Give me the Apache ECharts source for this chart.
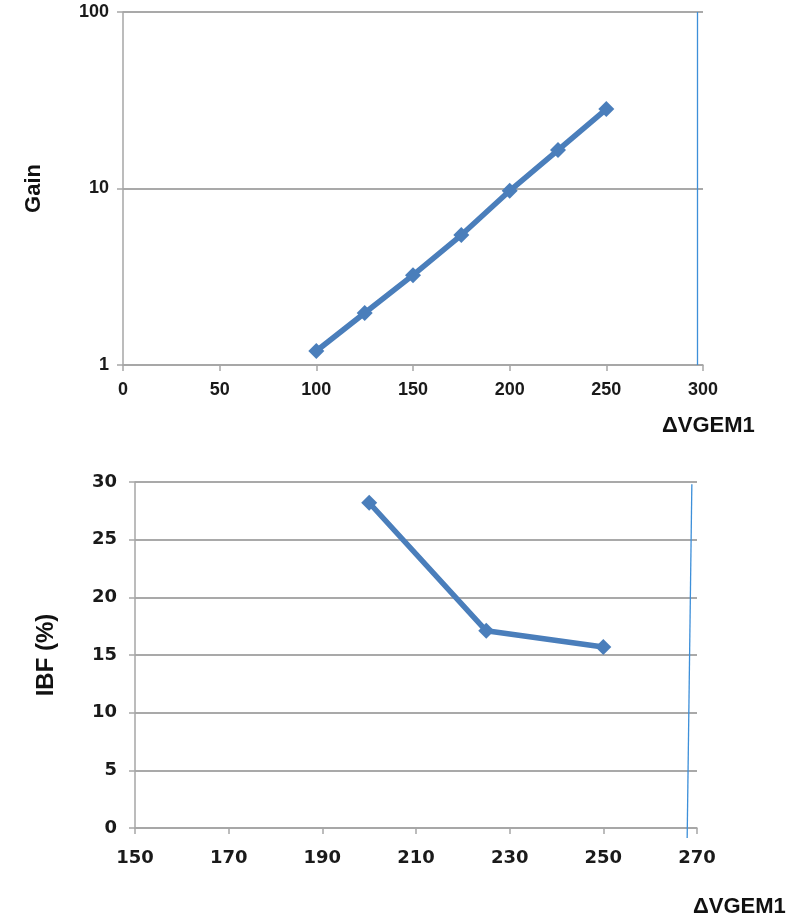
<!DOCTYPE html>
<html>
<head>
  <meta charset="UTF-8">
  <title>Gain and IBF vs ΔVGEM1</title>
  <style>
    body { margin: 0; background: #fff; }
    #chart { width: 803px; height: 921px; }
  </style>
  <script src="https://cdn.jsdelivr.net/npm/echarts@6/dist/echarts.min.js"></script>
</head>
<body>
<div id="chart"></div>
<script>
  // top panel: gain (log scale)
  const gainVoltage = [100, 125, 150, 175, 200, 225, 250];
  const gainValues = [1.2, 1.97, 3.23, 5.45, 9.7, 16.5, 28.2];
  // bottom panel: ion back flow
  const ibfVoltage = [200, 225, 250];
  const ibfValues = [28.2, 17.1, 15.7];
  // thin blue reference lines at the right edge of each panel
  const gainEdgeX = 297;
  const ibfEdgeX = [268.9, 267.9];
  const ibfEdgeY = [29.8, -0.87];

  const blue = '#4a7ebb';
  const thin = '#3d8fd9';
  const axisGray = '#a6a6a6';
  const nameStyle = { fontFamily: 'Liberation Sans', fontWeight: 'bold', fontSize: 22, color: '#111' };

  const chart = echarts.init(document.getElementById('chart'));

  const xCommon = {
    type: 'value',
    axisLine: { lineStyle: { color: axisGray, width: 1.5 } },
    axisTick: { show: true, length: 6, lineStyle: { color: axisGray, width: 1.5 } },
    splitLine: { show: false }
  };
  const yCommon = {
    axisLine: { show: true, lineStyle: { color: axisGray, width: 1.5 } },
    axisTick: { show: true, length: 6, lineStyle: { color: axisGray, width: 1.5 } },
    splitLine: { show: true, lineStyle: { color: '#8c8c8c', width: 1.5 } }
  };

  chart.setOption({
    animation: false,
    grid: [
      { left: 123, top: 12, width: 580, height: 353 },
      { left: 135, top: 482, width: 562, height: 346 }
    ],
    xAxis: [
      Object.assign({}, xCommon, {
        gridIndex: 0, min: 0, max: 300, interval: 50,
        name: 'ΔVGEM1', nameLocation: 'end', nameGap: -41,
        nameTextStyle: Object.assign({}, nameStyle, { verticalAlign: 'top', padding: [50, 0, 0, 0] }),
        axisLabel: { margin: 16, fontFamily: 'Liberation Sans', fontWeight: 'bold', fontSize: 18, color: '#1a1a1a' }
      }),
      Object.assign({}, xCommon, {
        gridIndex: 1, min: 150, max: 270, interval: 20,
        name: 'ΔVGEM1', nameLocation: 'end', nameGap: -4,
        nameTextStyle: Object.assign({}, nameStyle, { verticalAlign: 'top', padding: [68, 0, 0, 0] }),
        axisLabel: { margin: 21, fontFamily: 'DejaVu Sans', fontWeight: 'bold', fontSize: 18, color: '#1a1a1a' }
      })
    ],
    yAxis: [
      Object.assign({}, yCommon, {
        gridIndex: 0, type: 'log', logBase: 10, min: 1, max: 100,
        name: 'Gain', nameLocation: 'middle', nameGap: 78, nameRotate: 90,
        nameTextStyle: nameStyle,
        axisLabel: { margin: 14, fontFamily: 'Liberation Sans', fontWeight: 'bold', fontSize: 18, color: '#1a1a1a' }
      }),
      Object.assign({}, yCommon, {
        gridIndex: 1, type: 'value', min: 0, max: 30, interval: 5,
        name: 'IBF (%)', nameLocation: 'middle', nameGap: 77, nameRotate: 90,
        nameTextStyle: Object.assign({}, nameStyle, { fontSize: 24 }),
        axisLabel: { margin: 18, fontFamily: 'DejaVu Sans', fontWeight: 'bold', fontSize: 18, color: '#1a1a1a' }
      })
    ],
    series: [
      {
        type: 'line', xAxisIndex: 0, yAxisIndex: 0,
        data: gainVoltage.map((v, i) => [v, gainValues[i]]),
        symbol: 'diamond', symbolSize: 16,
        lineStyle: { color: blue, width: 5.5 },
        itemStyle: { color: blue },
        markLine: {
          silent: true, symbol: 'none', label: { show: false },
          lineStyle: { color: thin, width: 1.3, type: 'solid' },
          data: [{ xAxis: gainEdgeX }]
        }
      },
      {
        type: 'line', xAxisIndex: 1, yAxisIndex: 1,
        data: ibfVoltage.map((v, i) => [v, ibfValues[i]]),
        symbol: 'diamond', symbolSize: 16,
        lineStyle: { color: blue, width: 5.5 },
        itemStyle: { color: blue }
      },
      {
        type: 'line', xAxisIndex: 1, yAxisIndex: 1, clip: false, silent: true,
        data: ibfEdgeX.map((v, i) => [v, ibfEdgeY[i]]),
        symbol: 'none',
        lineStyle: { color: thin, width: 1.3 }
      }
    ]
  });
</script>
</body>
</html>
